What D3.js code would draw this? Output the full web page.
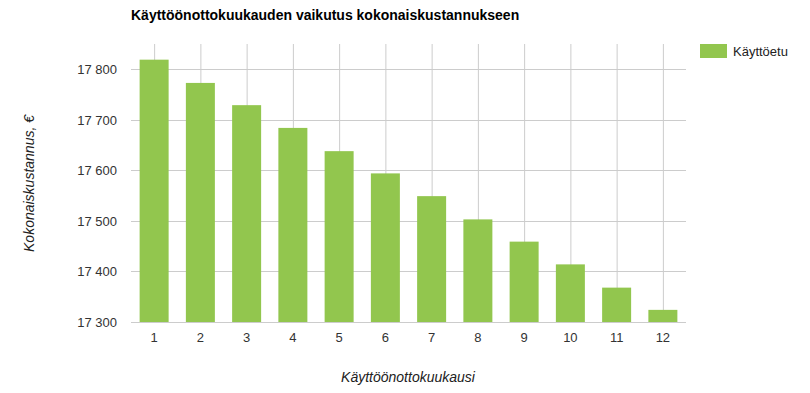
<!DOCTYPE html>
<html><head><meta charset="utf-8">
<script src="https://cdn.jsdelivr.net/npm/d3@7"></script>
<style>body{margin:0;background:#fff}svg{font-family:"Liberation Sans",Arial,sans-serif}</style>
</head><body><svg id="c" width="810" height="393"></svg>
<script>
const months = ["1","2","3","4","5","6","7","8","9","10","11","12"];
const values = [17819,17773,17729,17684,17638,17594,17549,17503,17459,17414,17368,17324];
const yTicks = [17300,17400,17500,17600,17700,17800];
const seriesName = "Käyttöetu";
const title = "Käyttöönottokuukauden vaikutus kokonaiskustannukseen";
const xTitle = "Käyttöönottokuukausi";
const yTitle = "Kokonaiskustannus, €";

const svg = d3.select("#c");
const L=131,R=686,T=44,B=322;
const xc = d3.scalePoint().domain(months).range([L+(R-L)/24, R-(R-L)/24]);
const y = d3.scaleLinear().domain([17300,17850]).range([B,T]);
const fmt = v => d3.format(",")(v).replace(",", " ");

// vertical grid
svg.append("g").selectAll("line").data(months).join("line")
  .attr("x1",d=>xc(d)+0.5).attr("x2",d=>xc(d)+0.5).attr("y1",T).attr("y2",B)
  .attr("stroke","#cccccc").attr("stroke-width",1);
// horizontal grid
svg.append("g").selectAll("line").data(yTicks).join("line")
  .attr("x1",L).attr("x2",R).attr("y1",d=>Math.round(y(d))+0.5).attr("y2",d=>Math.round(y(d))+0.5)
  .attr("stroke","#cccccc").attr("stroke-width",1);
// bars
svg.append("g").selectAll("rect").data(values).join("rect")
  .attr("x",(d,i)=>xc(months[i])-14.5).attr("width",29)
  .attr("y",d=>y(d)).attr("height",d=>B-y(d))
  .attr("fill","#92c64e");
// y labels
svg.append("g").selectAll("text").data(yTicks).join("text")
  .attr("x",117).attr("y",d=>y(d)+5).attr("text-anchor","end")
  .attr("font-size",13).attr("fill","#333").text(fmt);
// x labels
svg.append("g").selectAll("text").data(months).join("text")
  .attr("x",d=>xc(d)).attr("y",342).attr("text-anchor","middle")
  .attr("font-size",13).attr("fill","#333").text(d=>d);
// titles
svg.append("text").attr("x",131).attr("y",20).attr("font-size",14).attr("font-weight","bold").attr("fill","#000").text(title);
svg.append("text").attr("x",408).attr("y",382).attr("text-anchor","middle").attr("font-size",14).attr("font-style","italic").attr("fill","#222").text(xTitle);
svg.append("text").attr("transform","translate(34,183.5) rotate(-90)").attr("text-anchor","middle").attr("font-size",14).attr("font-style","italic").attr("fill","#222").text(yTitle);
// legend
svg.append("rect").attr("x",700).attr("y",44).attr("width",27).attr("height",14).attr("fill","#92c64e");
svg.append("text").attr("x",733).attr("y",56).attr("font-size",13).attr("fill","#222").text(seriesName);
</script></body></html>
